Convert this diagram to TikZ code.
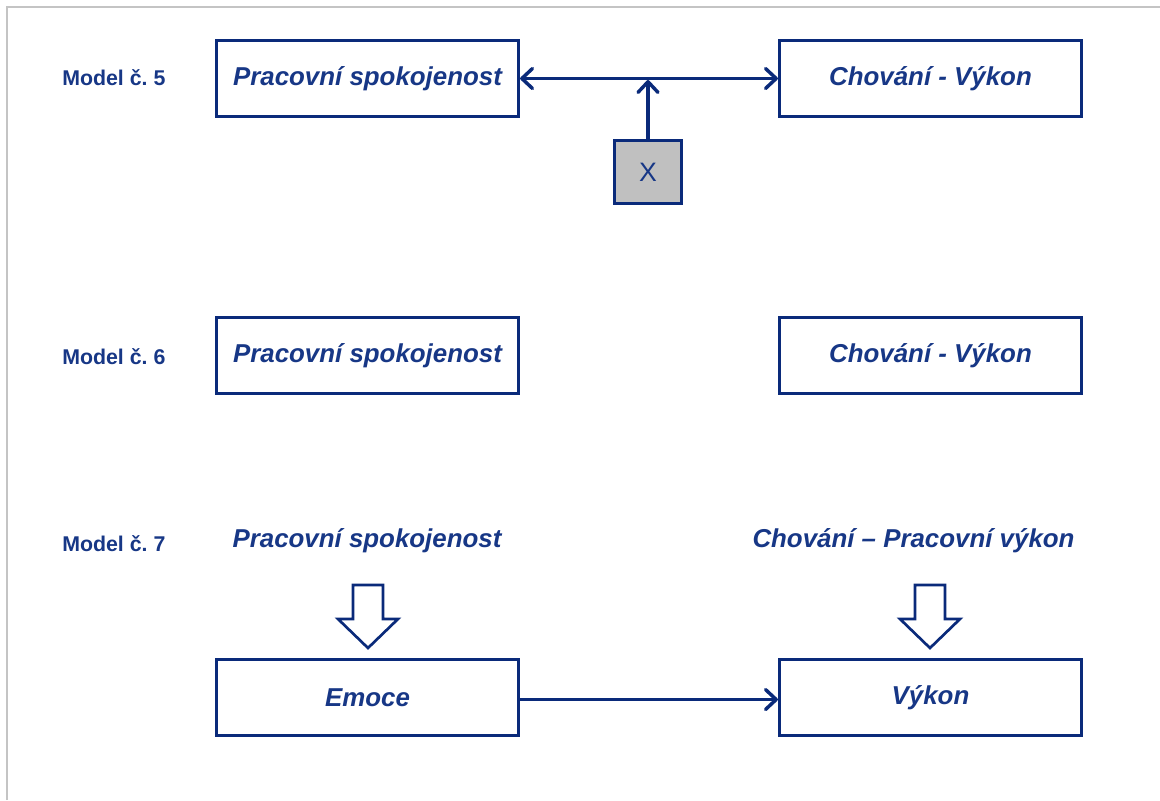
\documentclass[tikz,border=0pt]{standalone}
\usepackage{fontspec}
\setmainfont{Liberation Sans}
\usetikzlibrary{arrows.meta}
\definecolor{navy}{HTML}{0A2A7A}
\definecolor{navytext}{HTML}{173786}
\definecolor{frame}{HTML}{C4C4C4}
\definecolor{xfill}{HTML}{C0C0C0}
\frenchspacing
\begin{document}
\begin{tikzpicture}[x=0.75pt,y=-0.75pt,
  box/.style={draw=navy,line width=2.4pt,fill=white,minimum width=226.5pt,minimum height=57pt,
    font=\fontsize{19.4}{23}\selectfont\bfseries\itshape,text=navytext,inner sep=0pt},
  plain/.style={font=\fontsize{19.4}{23}\selectfont\bfseries\itshape,text=navytext,inner sep=0pt},
  modellabel/.style={anchor=west,font=\fontsize{16}{19}\selectfont\bfseries,text=navytext,inner sep=0pt},
  xbox/.style={draw=navy,line width=2.4pt,fill=xfill,minimum width=50.25pt,minimum height=47.25pt,
    font=\fontsize{20}{24}\selectfont,text=navytext,inner sep=0pt},
  link/.style={draw=navy,line width=2.6pt,line cap=round},
  barb/.tip={Straight Barb[length=8pt,width=15pt,line width=2.6pt,round]},
  tip/.style={-barb},
  hollow/.style={draw=navy,line width=2pt,fill=white,line join=miter},
  pics/downarrow/.style={code={
    \draw[hollow] (-15,0) -- (15,0) -- (15,34) -- (30,34) -- (0,63) -- (-30,34) -- (-15,34) -- cycle;
  }}]
  \useasboundingbox (0,0) rectangle (1160,800);
  % page frame (top and left edges)
  \draw[frame,line width=1.5pt] (7,800) -- (7,7) -- (1160,7);

  % Model 5
  \node[modellabel] (lab5) at (62,78) {Model č. 5};
  \node[box] (s5) at (367.5,78.5) {Pracovní spokojenost};
  \node[box] (c5) at (930.5,78.5) {Chování - Výkon};
  \node[xbox] (x5) at (648,172) {\raisebox{-2pt}{X}};
  \draw[link,barb-barb] (s5.east) -- (c5.west);
  \coordinate (mid5) at (648,80);
  \draw[link,tip] (x5.north) -- (mid5);

  % Model 6
  \node[modellabel] (lab6) at (62,357) {Model č. 6};
  \node[box] (s6) at (367.5,355.5) {Pracovní spokojenost};
  \node[box] (c6) at (930.5,355.5) {Chování - Výkon};

  % Model 7
  \node[modellabel] (lab7) at (62,544) {Model č. 7};
  \node[plain] (s7) at (367,541) {Pracovní spokojenost};
  \node[plain] (c7) at (913.5,541) {Chování – Pracovní výkon};
  \pic at (368,585) {downarrow};
  \pic at (930,585) {downarrow};
  \node[box] (e7) at (367.5,697.5) {Emoce};
  \node[box] (v7) at (930.5,697.5) {Výkon};
  \draw[link,tip] ([yshift=-1.5pt]e7.east) -- ([yshift=-1.5pt]v7.west);
\end{tikzpicture}
\end{document}
